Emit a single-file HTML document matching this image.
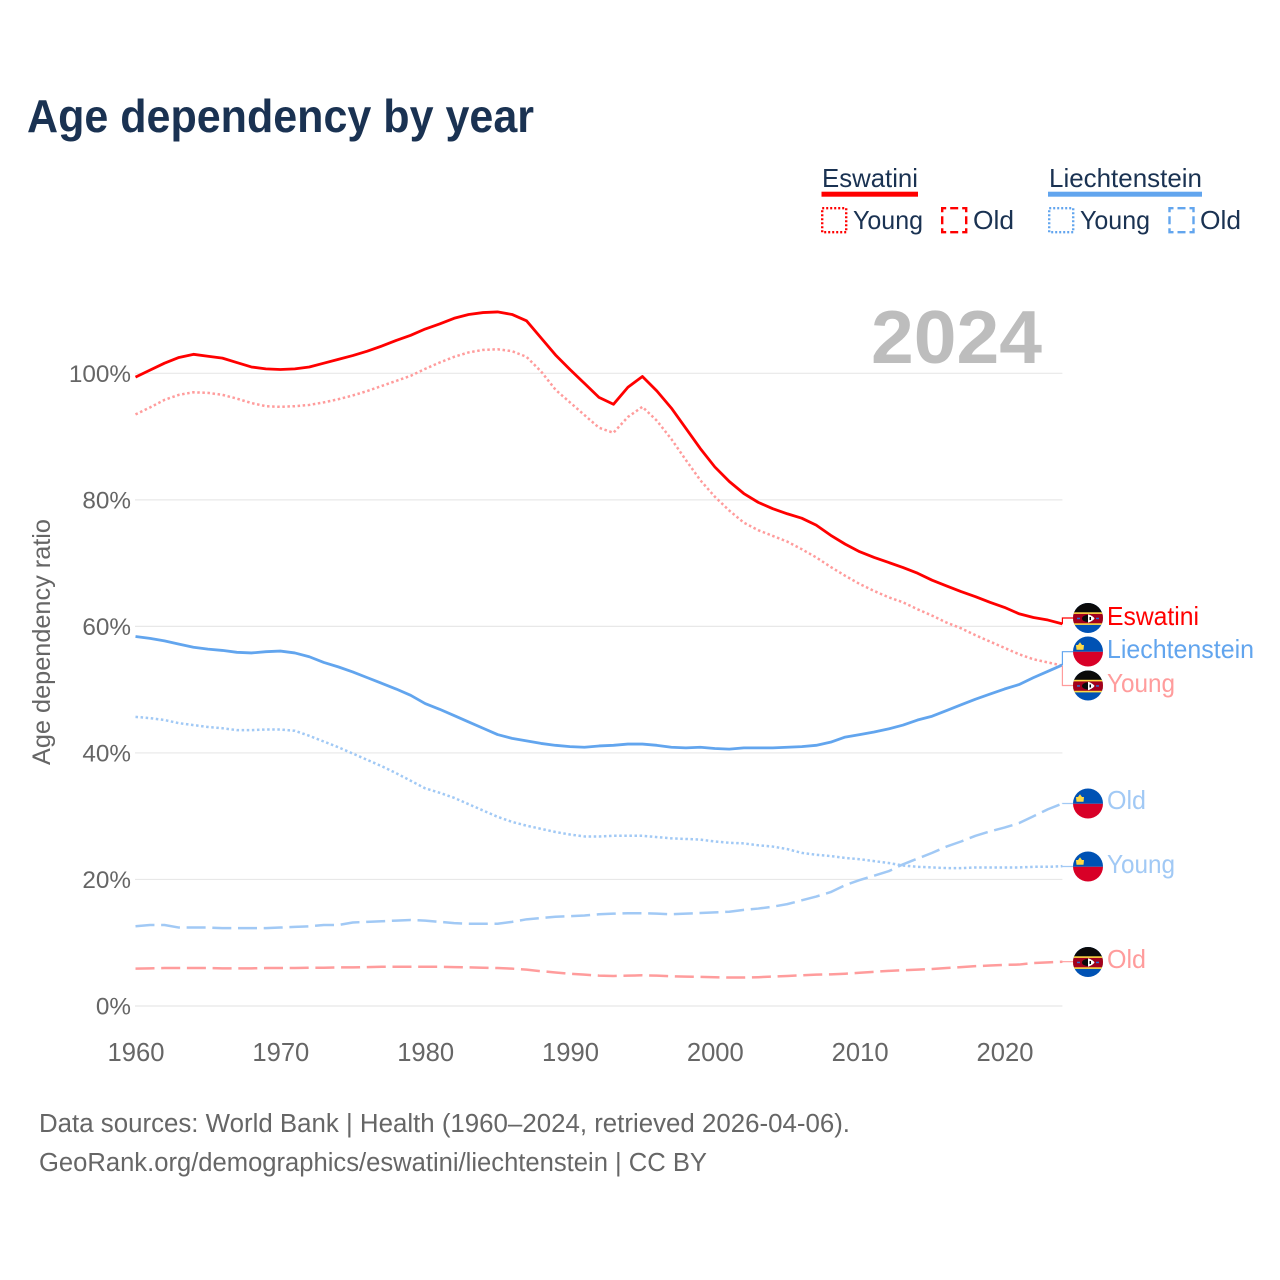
<!DOCTYPE html>
<html lang="en">
<head>
<meta charset="utf-8">
<title>Age dependency by year</title>
<style>
html,body{margin:0;padding:0;background:#fff;}
body{width:1280px;height:1280px;overflow:hidden;}
svg{display:block;font-family:"Liberation Sans",sans-serif;}
</style>
</head>
<body>
<svg id="chart" xmlns="http://www.w3.org/2000/svg" width="1280" height="1280" viewBox="0 0 1280 1280">
  <defs>
    <clipPath id="flag-clip"><circle cx="15" cy="15" r="15"/></clipPath>
    <symbol id="flag-sz" width="30" height="30" viewBox="0 0 30 30">
      <g clip-path="url(#flag-clip)">
        <rect width="30" height="30" fill="#0052b4"/>
        <rect width="30" height="10" fill="#0a0a0a"/>
        <rect y="9.3" width="30" height="12.6" fill="#ffda44"/>
        <rect y="10.9" width="30" height="9.4" fill="#a2001d"/>
        <ellipse cx="15" cy="15.5" rx="6" ry="3.6" fill="#0a0a0a"/>
        <path d="M15 11.3 C19 12.5 21 14.5 21.5 15.5 C21 16.5 19 18.5 15 19.7Z" fill="#fff"/>
        <rect x="4" y="14.7" width="3" height="1.5" fill="#2e6fd0"/>
        <rect x="23" y="14.7" width="3" height="1.5" fill="#2e6fd0"/>
        <rect x="16.5" y="14" width="1.5" height="3" fill="#0a0a0a"/>
      </g>
    </symbol>
    <symbol id="flag-li" width="30" height="30" viewBox="0 0 30 30">
      <g clip-path="url(#flag-clip)">
        <rect width="30" height="15.3" fill="#0052b4"/>
        <rect y="15.3" width="30" height="14.7" fill="#d80027"/>
        <path d="M3 8.5 L5 8.5 L7 5.8 L9 8.5 L11 8.5 L10.5 13.2 L3.5 13.2Z" fill="#ffda44"/>
      </g>
    </symbol>
  </defs>

  <rect width="1280" height="1280" fill="#fff"/>

  <text x="27" y="132" font-size="46" font-weight="700" fill="#1a3252" textLength="507" lengthAdjust="spacingAndGlyphs">Age dependency by year</text>

  <g fill="#1a3252" font-size="26">
    <g>
      <text x="822" y="187" textLength="96" lengthAdjust="spacingAndGlyphs">Eswatini</text>
      <rect x="821.5" y="191.7" width="96.5" height="5" fill="#ff0000"/>
      <rect x="822.2" y="208.2" width="24" height="24" fill="none" stroke="#ff0000" stroke-width="2.4" stroke-dasharray="2 2"/>
      <text x="853" y="229" textLength="70" lengthAdjust="spacingAndGlyphs">Young</text>
      <rect x="942.2" y="208.2" width="24" height="24" fill="none" stroke="#ff0000" stroke-width="2.4" stroke-dasharray="8 4" stroke-dashoffset="4"/>
      <text x="973" y="229" textLength="41" lengthAdjust="spacingAndGlyphs">Old</text>
    </g>
    <g>
      <text x="1049" y="187" textLength="153" lengthAdjust="spacingAndGlyphs">Liechtenstein</text>
      <rect x="1048" y="191.7" width="154" height="5" fill="#62a5ee"/>
      <rect x="1049.2" y="208.2" width="24" height="24" fill="none" stroke="#62a5ee" stroke-width="2.4" stroke-dasharray="2 2"/>
      <text x="1080" y="229" textLength="70" lengthAdjust="spacingAndGlyphs">Young</text>
      <rect x="1169.5" y="208.2" width="24" height="24" fill="none" stroke="#62a5ee" stroke-width="2.4" stroke-dasharray="8 4" stroke-dashoffset="4"/>
      <text x="1200" y="229" textLength="41" lengthAdjust="spacingAndGlyphs">Old</text>
    </g>
  </g>

  <g id="grid"></g>
  <g id="y-ticks"></g>
  <g id="x-ticks"></g>

  <text x="871" y="363" font-size="75" font-weight="700" fill="#bdbdbd" textLength="171" lengthAdjust="spacingAndGlyphs">2024</text>

  <text transform="translate(50,642) rotate(-90)" text-anchor="middle" font-size="25" fill="#666666" textLength="246" lengthAdjust="spacingAndGlyphs">Age dependency ratio</text>

  <g id="series"></g>
  <g id="connectors"></g>

  <g font-size="26">
    <use href="#flag-sz" x="1073" y="603"/>
    <text x="1107" y="625" fill="#ff0000" textLength="92" lengthAdjust="spacingAndGlyphs">Eswatini</text>
    <use href="#flag-li" x="1073" y="636.5"/>
    <text x="1107" y="658" fill="#62a5ee" textLength="147" lengthAdjust="spacingAndGlyphs">Liechtenstein</text>
    <use href="#flag-sz" x="1073" y="670.5"/>
    <text x="1107" y="692" fill="#ff9c9c" textLength="68" lengthAdjust="spacingAndGlyphs">Young</text>
    <use href="#flag-li" x="1073" y="788.5"/>
    <text x="1107" y="809" fill="#a1c9f5" textLength="39" lengthAdjust="spacingAndGlyphs">Old</text>
    <use href="#flag-li" x="1073" y="851.5"/>
    <text x="1107" y="873" fill="#a1c9f5" textLength="68" lengthAdjust="spacingAndGlyphs">Young</text>
    <use href="#flag-sz" x="1073" y="947"/>
    <text x="1107" y="968" fill="#ff9c9c" textLength="39" lengthAdjust="spacingAndGlyphs">Old</text>
  </g>

  <g font-size="25.5" fill="#666666">
    <text x="39" y="1132" textLength="811" lengthAdjust="spacingAndGlyphs">Data sources: World Bank | Health (1960–2024, retrieved 2026-04-06).</text>
    <text x="39" y="1171" textLength="668" lengthAdjust="spacingAndGlyphs">GeoRank.org/demographics/eswatini/liechtenstein | CC BY</text>
  </g>
</svg>
<script>
const startYear = 1960;
const yTickValues = [0, 20, 40, 60, 80, 100];
const xTickYears = [1960, 1970, 1980, 1990, 2000, 2010, 2020];

const eswatiniTotal = [99.4,100.5,101.6,102.5,103.0,102.7,102.4,101.7,101.0,100.7,100.6,100.7,101.0,101.6,102.2,102.8,103.5,104.3,105.2,106.0,107.0,107.8,108.7,109.3,109.6,109.7,109.3,108.3,105.6,102.9,100.6,98.4,96.2,95.1,97.8,99.5,97.2,94.5,91.3,88.1,85.2,82.9,81.0,79.6,78.6,77.8,77.1,76.0,74.4,73.0,71.8,70.9,70.1,69.3,68.4,67.3,66.4,65.5,64.7,63.8,63.0,62.0,61.4,61.0,60.4];
const eswatiniYoung = [93.5,94.6,95.8,96.6,97.0,96.9,96.6,96.0,95.3,94.8,94.7,94.8,95.0,95.4,95.9,96.5,97.2,98.0,98.8,99.6,100.7,101.7,102.6,103.3,103.7,103.8,103.5,102.6,100.3,97.4,95.4,93.4,91.4,90.6,93.1,94.7,92.5,89.6,86.3,83.1,80.5,78.3,76.4,75.2,74.3,73.4,72.2,70.9,69.4,68.0,66.7,65.6,64.6,63.8,62.7,61.7,60.6,59.7,58.6,57.6,56.6,55.6,54.8,54.3,53.8];
const eswatiniOld = [5.9,5.95,6.0,6.0,6.0,6.0,5.95,5.95,5.95,6.0,6.0,6.0,6.05,6.05,6.1,6.1,6.15,6.2,6.2,6.2,6.2,6.2,6.15,6.1,6.05,6.0,5.9,5.75,5.5,5.3,5.1,4.95,4.8,4.75,4.8,4.85,4.8,4.7,4.65,4.6,4.55,4.5,4.5,4.55,4.65,4.75,4.85,4.95,5.0,5.1,5.25,5.4,5.55,5.65,5.75,5.85,6.0,6.15,6.3,6.4,6.5,6.55,6.8,6.9,7.0];
const liechtensteinTotal = [58.4,58.1,57.7,57.2,56.7,56.4,56.2,55.9,55.8,56.0,56.1,55.8,55.2,54.3,53.6,52.8,51.9,51.0,50.1,49.1,47.8,46.9,45.9,44.9,43.9,42.9,42.3,41.9,41.5,41.2,41.0,40.9,41.1,41.2,41.4,41.4,41.2,40.9,40.8,40.9,40.7,40.6,40.8,40.8,40.8,40.9,41.0,41.2,41.7,42.5,42.9,43.3,43.8,44.4,45.2,45.8,46.7,47.6,48.5,49.3,50.1,50.8,51.9,52.9,53.9];
const liechtensteinYoung = [45.7,45.5,45.2,44.7,44.4,44.1,43.9,43.6,43.6,43.7,43.7,43.5,42.7,41.8,40.9,39.9,38.9,37.9,36.8,35.6,34.4,33.7,32.9,31.9,30.9,29.9,29.1,28.5,28.0,27.5,27.1,26.8,26.8,26.9,26.9,26.9,26.7,26.5,26.4,26.3,26.0,25.8,25.7,25.4,25.2,24.8,24.2,23.9,23.7,23.4,23.2,22.9,22.6,22.2,22.0,21.9,21.8,21.8,21.9,21.9,21.9,21.9,22.0,22.0,22.1];
const liechtensteinOld = [12.6,12.8,12.8,12.4,12.4,12.4,12.3,12.3,12.3,12.3,12.4,12.5,12.6,12.8,12.8,13.2,13.3,13.4,13.5,13.6,13.5,13.3,13.1,13.0,13.0,13.0,13.3,13.7,13.9,14.1,14.2,14.3,14.5,14.6,14.65,14.65,14.6,14.5,14.6,14.7,14.8,14.9,15.2,15.4,15.7,16.1,16.7,17.3,18.0,19.1,19.9,20.6,21.3,22.4,23.3,24.2,25.2,26.0,26.9,27.6,28.2,28.9,30.0,31.1,32.0];

const NS = 'http://www.w3.org/2000/svg';
function xScale(year) { return 135.5 + (year - startYear) * 14.483; }
function yScale(value) { return 1006 - value * 6.327; }
const plotRight = xScale(2024);

function make(tag, attrs, parent) {
  const el = document.createElementNS(NS, tag);
  for (const k in attrs) el.setAttribute(k, attrs[k]);
  parent.appendChild(el);
  return el;
}

const gridG = document.getElementById('grid');
const yTicksG = document.getElementById('y-ticks');
yTickValues.forEach(function (v) {
  const line = make('line', {x1: 135, x2: plotRight, y1: yScale(v), y2: yScale(v), stroke: '#e8e8e8', 'stroke-width': 1.2}, gridG);
  
  
  const t = make('text', {x: 131, y: yScale(v) + 8.5, 'text-anchor': 'end', 'font-size': 24.3, fill: '#666666'}, yTicksG);
  
  
  t.textContent = v + '%';
});

const xTicksG = document.getElementById('x-ticks');
xTickYears.forEach(function (yr) {
  const t = make('text', {x: xScale(yr) + 0.5, y: 1061, 'text-anchor': 'middle', 'font-size': 25.6, fill: '#666666'}, xTicksG);
  
  
  t.textContent = yr;
});

function linePath(values) {
  return values.map(function (v, i) {
    return (i ? 'L' : 'M') + xScale(startYear + i).toFixed(2) + ' ' + yScale(v).toFixed(2);
  }).join(' ');
}

const seriesG = document.getElementById('series');
function drawLine(values, name, color, width, dash) {
  const attrs = {d: linePath(values), fill: 'none', stroke: color, 'stroke-width': width, 'stroke-linejoin': 'round'};
  if (dash) attrs['stroke-dasharray'] = dash;
  const p = make('path', attrs, seriesG);
  
  
}
drawLine(eswatiniOld, 'line-eswatini-old', '#ff9c9c', 2.5, '19 6.7');
drawLine(eswatiniYoung, 'line-eswatini-young', '#ff9c9c', 2.5, '2.5 2.6');
drawLine(liechtensteinYoung, 'line-liechtenstein-young', '#a1c9f5', 2.5, '2.5 2.6');
drawLine(liechtensteinOld, 'line-liechtenstein-old', '#a1c9f5', 2.5, '19 6.7');
drawLine(liechtensteinTotal, 'line-liechtenstein-total', '#62a5ee', 2.8, '');
drawLine(eswatiniTotal, 'line-eswatini-total', '#ff0000', 2.8, '');

const connG = document.getElementById('connectors');
function drawConnector(values, targetY, color, name) {
  const y0 = yScale(values[values.length - 1]);
  const p = make('path', {d: 'M' + plotRight + ' ' + y0 + ' V' + targetY + ' H1073', fill: 'none', stroke: color, 'stroke-width': 1.2}, connG);
  
  
}
drawConnector(eswatiniTotal, 618, '#ff0000', 'connector-eswatini');
drawConnector(liechtensteinTotal, 651.7, '#62a5ee', 'connector-liechtenstein');
drawConnector(eswatiniYoung, 685.5, '#ff9c9c', 'connector-eswatini-young');
drawConnector(liechtensteinOld, 803.5, '#a1c9f5', 'connector-liechtenstein-old');
drawConnector(liechtensteinYoung, 866.5, '#a1c9f5', 'connector-liechtenstein-young');
drawConnector(eswatiniOld, 961.7, '#ff9c9c', 'connector-eswatini-old');
</script>
</body>
</html>
